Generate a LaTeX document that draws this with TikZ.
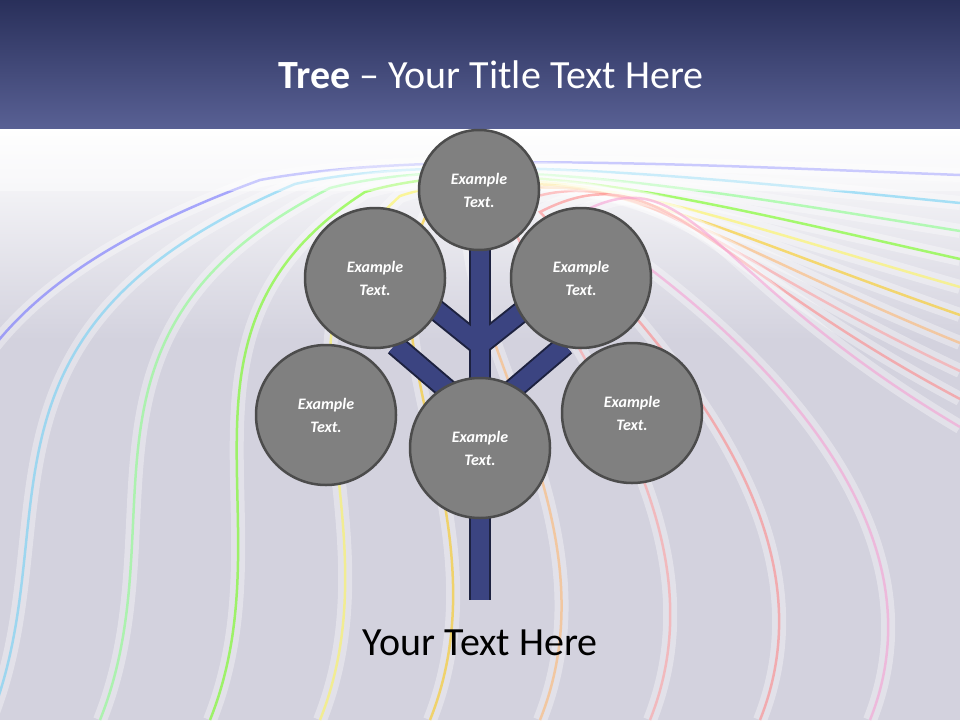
\documentclass[tikz,border=0pt]{standalone}
\usepackage{fontspec}
\setmainfont{Carlito}
\begin{document}
\begin{tikzpicture}[x=1pt,y=-1pt,
  bub/.style={circle,fill=black!50,draw=black!70,line width=2.5pt,text=white,font=\bfseries\itshape\fontsize{16}{23}\selectfont,align=center,inner sep=0pt},
  branch/.style={line width=22pt,draw=trunk!50!black},
  branchin/.style={line width=18pt,draw=trunk}]
\definecolor{trunk}{HTML}{3B4481}
\definecolor{bg}{HTML}{D3D2DE}
\useasboundingbox (0,0) rectangle (960,720);
\fill[bg] (0,0) rectangle (960,720);
\shade[top color=white,bottom color=bg] (0,128) rectangle (960,340);
% rainbow stripes
\foreach \i/\c in {0/blue!60,1/cyan!60,2/green!50,3/green!60!yellow,4/yellow!70,5/yellow!60!orange,6/orange!60,7/red!40,8/red!50,9/magenta!40}{
  \draw[white,line width=14pt,opacity=0.35] (-120+\i*110,720) .. controls (-40+\i*110,520) and (-150+\i*100,330) .. (260+\i*35,180+\i*4) .. controls (420+\i*30,150) and (700,165+\i*12) .. (960,175+\i*28);
  \draw[\c,line width=2.5pt,opacity=0.55] (-120+\i*110,720) .. controls (-40+\i*110,520) and (-150+\i*100,330) .. (260+\i*35,180+\i*4) .. controls (420+\i*30,150) and (700,165+\i*12) .. (960,175+\i*28);
}
\shade[top color=white,bottom color=white,opacity=0.4] (0,128) rectangle (960,190);
\shade[top color=trunk!70!black,bottom color=trunk!85!white] (0,0) rectangle (960,128);
\node[text=white,font=\fontsize{40}{48}\selectfont] (title) at (491,75) {\textbf{Tree} – Your Title Text Here};
% nodes
\coordinate (tt) at (479.5,245);
\coordinate (tb) at (479.5,600);
\coordinate (ulb) at (479.5,345);
\coordinate (urb) at (479.5,345);
\coordinate (llb) at (450,392);
\coordinate (lrb) at (510,392);
\coordinate (ul) at (430,305);
\coordinate (ur) at (530,305);
\coordinate (ll) at (395,345);
\coordinate (lr) at (565,345);
\foreach \a/\b in {ulb/ul,urb/ur,llb/ll,lrb/lr}{\draw[branch] (\a)--(\b);}
\draw[line width=22pt,draw=trunk!50!black] (tt)--(tb);
\foreach \a/\b in {ulb/ul,urb/ur,llb/ll,lrb/lr}{\draw[branchin] (\a)--(\b);}
\draw[line width=18pt,draw=trunk] (tt)--(tb);
\node[bub,minimum size=120pt] (t) at (479,190) {Example\\Text.};
\node[bub,minimum size=140pt] (a) at (375,278) {Example\\Text.};
\node[bub,minimum size=140pt] (b) at (581,278) {Example\\Text.};
\node[bub,minimum size=140pt] (c) at (326,415) {Example\\Text.};
\node[bub,minimum size=140pt] (d) at (632,413) {Example\\Text.};
\node[bub,minimum size=140pt] (e) at (480,448) {Example\\Text.};
\node[font=\fontsize{40}{48}\selectfont] (txt) at (480,643) {Your Text Here};
\end{tikzpicture}
\end{document}
